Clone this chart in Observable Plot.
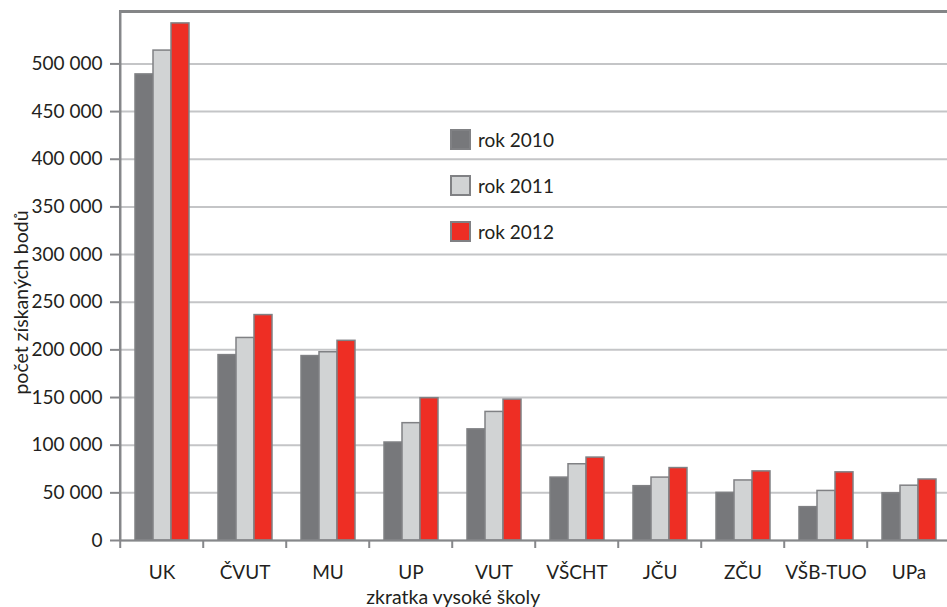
<!DOCTYPE html>
<html>
<head>
<meta charset="utf-8">
<script src="https://cdn.jsdelivr.net/npm/d3@7"></script>
<script src="https://cdn.jsdelivr.net/npm/@observablehq/plot@0.6"></script>
<style>
  html, body { margin: 0; padding: 0; background: white; overflow: hidden; }
  #wrap { position: relative; width: 947px; height: 607px; font-family: Lato, "Open Sans", sans-serif; color: #231f20; }
  #legend { position: absolute; left: 450px; top: 129px; font-size: 19px; }
  .row { display: flex; align-items: center; height: 21px; margin-bottom: 25px; }
  .sw { width: 17px; height: 17px; border: 2px solid #808184; margin-right: 7px; box-sizing: content-box; }
</style>
</head>
<body>
<div id="wrap"><div id="legend"></div></div>
<script>
// ---- data ----
const categories = ["UK", "ČVUT", "MU", "UP", "VUT", "VŠCHT", "JČU", "ZČU", "VŠB-TUO", "UPa"];
const years = ["rok 2010", "rok 2011", "rok 2012"];
const v2010 = [489000, 194500, 193500, 102800, 116600, 66000, 57000, 50000, 35000, 49500];
const v2011 = [514000, 212500, 197500, 123100, 134900, 80000, 66000, 63000, 52000, 57500];
const v2012 = [542500, 236500, 209500, 149300, 147800, 87000, 76000, 72500, 71500, 64000];
const yTicks = [0, 50000, 100000, 150000, 200000, 250000, 300000, 350000, 400000, 450000, 500000];
const colors = ["#77787b", "#d1d3d4", "#ee2e24"];
const xTitle = "zkratka vysoké školy";
const yTitle = "počet získaných bodů";

const series = [v2010, v2011, v2012];
const data = categories.flatMap((c, i) => years.map((y, k) => ({cat: c, year: y, value: series[k][i]})));

const fmt = d3.formatLocale({thousands: " ", grouping: [3], decimal: ",", currency: ["", ""]}).format(",d");

const fxRange = [117, 952.5];
const band = (fxRange[1] - fxRange[0]) / categories.length;
const axisGray = "#86878a";

const chart = Plot.plot({
  width: 947,
  height: 607,
  marginTop: 11,
  marginBottom: 67,
  marginLeft: 117,
  marginRight: 0,
  style: {fontFamily: "Lato, 'Open Sans', sans-serif", fontSize: "19px", color: "#231f20", background: "white"},
  fx: {domain: categories, padding: 0, range: fxRange, label: null},
  x: {domain: years, paddingInner: 0, paddingOuter: 0.78, axis: null},
  y: {domain: [0, 555000], label: null},
  color: {domain: years, range: colors},
  marks: [
    Plot.gridY(yTicks, {stroke: "#c4c5c7", strokeWidth: 2, strokeOpacity: 1}),
    Plot.frame({anchor: "top", stroke: "#848587", strokeWidth: 3}),
    Plot.barY(data, {fx: "cat", x: "year", y: "value", fill: "year", stroke: "#808184", strokeWidth: 1.5}),
    Plot.ruleY([0], {stroke: axisGray, strokeWidth: 2}),
    Plot.axisY(yTicks, {tickSize: 10, tickPadding: 8, tickFormat: fmt, stroke: axisGray, strokeWidth: 2, label: null, fontSize: 19, fill: "#231f20"}),
    Plot.axisFx({anchor: "bottom", tickSize: 0, tickPadding: 25, label: null, fontSize: 19, fill: "#231f20"}),
    Plot.axisFx({anchor: "bottom", tickSize: 8, text: null, label: null, dx: -band / 2, stroke: axisGray, strokeWidth: 2}),
    Plot.ruleX([0], {facetAnchor: "left", x: null, y1: 0, y2: 555000, dx: -band / 2, stroke: axisGray, strokeWidth: 2.5}),
    Plot.text([yTitle], {facetAnchor: "left", frameAnchor: "left", textAnchor: "middle", dx: -99, dy: 26.5, rotate: -90, fontSize: 19.5, fill: "#231f20", lineAnchor: "middle"}),
    Plot.text([xTitle], {facetAnchor: "left", frameAnchor: "bottom", textAnchor: "middle", dx: 450 - (fxRange[0] + band / 2), dy: 57, fontSize: 19.5, fill: "#231f20", lineAnchor: "middle"})
  ]
});
document.getElementById("wrap").prepend(chart);

const legend = document.getElementById("legend");
years.forEach((y, k) => {
  const row = document.createElement("div");
  row.className = "row";
  const sw = document.createElement("div");
  sw.className = "sw";
  sw.style.background = colors[k];
  row.appendChild(sw);
  const t = document.createElement("span");
  t.textContent = y;
  row.appendChild(t);
  legend.appendChild(row);
});
</script>
</body>
</html>
